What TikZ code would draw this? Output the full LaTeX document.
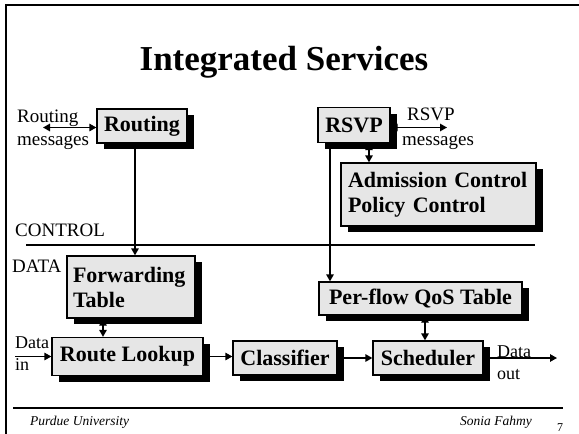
\documentclass[tikz,border=0pt]{standalone}
\usepackage{fontspec}
\setmainfont{Liberation Serif}
\usetikzlibrary{arrows.meta,shadows}
\definecolor{boxfill}{RGB}{230,230,230}
% two stacked lines whose baseline is that of the first line
\newcommand\twolines[2]{\begin{tabular}[t]{@{}l@{}}#1\\#2\end{tabular}}
\begin{document}
\begin{tikzpicture}[x=1pt,y=-1pt,
  box/.style={draw=black, line width=1.3pt, fill=boxfill, inner sep=0pt,
    font=\fontsize{22}{25}\selectfont\bfseries,
    general shadow={fill=black, shadow xshift=6.5pt, shadow yshift=-6pt}},
  conn/.style={line width=1.3pt, >={Triangle[length=7pt,width=7.5pt]}},
  lbl/.style={inner sep=0pt, anchor=base west},
  foot/.style={font=\fontsize{13.5}{15}\selectfont\itshape, inner sep=0pt}]
\useasboundingbox (0,0) rectangle (579,434);

% slide frame and rules
\coordinate (ftr) at (579,5);
\coordinate (ftl) at (6,5);
\coordinate (fbl) at (6,434);
\draw[line width=2.6pt] (ftr) -- (ftl) -- (fbl);
\coordinate (cl) at (26,245);
\coordinate (cr) at (535,245);
\draw[line width=1.2pt] (cl) -- (cr);
\coordinate (bl) at (13,408);
\coordinate (br) at (563,408);
\draw[line width=2pt] (bl) -- (br);

% title
\node[font=\fontsize{35}{40}\selectfont\bfseries, inner sep=0pt, anchor=base] (title) at (284,70) {Integrated Services};

% boxes
\node[box, minimum width=90pt, minimum height=34pt] (routing) at (142,126) {Routing};
\node[box, minimum width=72pt, minimum height=35pt] (rsvp) at (354,125) {RSVP};
\node[box, minimum width=195pt, minimum height=63pt, text width=181pt, align=left] (adm) at (438.5,194.5) {Admission Control\\Policy Control};
\node[box, minimum width=128pt, minimum height=62pt, text width=116pt, align=left] (fwd) at (131,287) {Forwarding\\Table};
\node[box, minimum width=203pt, minimum height=33pt] (qos) at (420.5,298.5) {Per-flow QoS Table};
\node[box, minimum width=151pt, minimum height=38pt] (lookup) at (127.5,356.5) {Route Lookup};
\node[box, minimum width=104pt, minimum height=34pt] (cls) at (285,358) {Classifier};
\node[box, minimum width=110pt, minimum height=34pt] (sched) at (428,358) {Scheduler};

% labels
\node[lbl, font=\fontsize{19}{23}\selectfont] (rmsglbl) at (17,122.5) {\twolines{Routing}{messages}};
\node[lbl, font=\fontsize{19}{25}\selectfont] (rsvpmsglbl) at (402,120) {\twolines{\hspace*{5pt}RSVP}{messages}};
\node[lbl, font=\fontsize{19}{21}\selectfont] (control) at (15,236.5) {CONTROL};
\node[lbl, font=\fontsize{19}{21}\selectfont] (data) at (12,272) {DATA};
\node[lbl, font=\fontsize{18}{22.5}\selectfont] (datainlbl) at (15,348) {\twolines{Data}{in}};
\node[lbl, font=\fontsize{18}{22}\selectfont] (dataoutlbl) at (497,357) {\twolines{Data}{out}};

% footer
\node[foot, anchor=base west] (purdue) at (30,425) {Purdue University};
\node[foot, anchor=base east] (sonia) at (532,425) {Sonia Fahmy};
\node[font=\fontsize{12}{14}\selectfont, inner sep=0pt, anchor=base west] (page) at (557,431) {7};

% connectors
\coordinate (rmsg) at (43,127.5);
\draw[conn,<->] (rmsg) -- (rmsg -| routing.west);
\coordinate (rsvpmsg) at (447,127.5);
\draw[conn,<->] (rsvpmsg -| rsvp.east) -- (rsvpmsg);
\coordinate (routex) at (135,0);
\draw[conn,->] (routex |- routing.south) -- (routex |- fwd.north);
\coordinate (rsvpx) at (330,0);
\draw[conn,->] (rsvpx |- rsvp.south) -- (rsvpx |- qos.north);
\coordinate (admx) at (369,0);
\draw[conn,<->] (admx |- rsvp.south) -- (admx |- adm.north);
\coordinate (fwdx) at (103,0);
\draw[conn,<->] (fwdx |- fwd.south) -- (fwdx |- lookup.north);
\coordinate (qosx) at (425,0);
\draw[conn,<->] (qosx |- qos.south) -- (qosx |- sched.north);
\coordinate (datain) at (15,356.5);
\draw[conn,->] (datain) -- (lookup.west);
\draw[conn,->] (lookup.east) -- (lookup.east -| cls.west);
\draw[conn,->] (cls.east) -- (sched.west);
\coordinate (dataout) at (557,358);
\draw[conn,->] (sched.east) -- (dataout);
\end{tikzpicture}
\end{document}
